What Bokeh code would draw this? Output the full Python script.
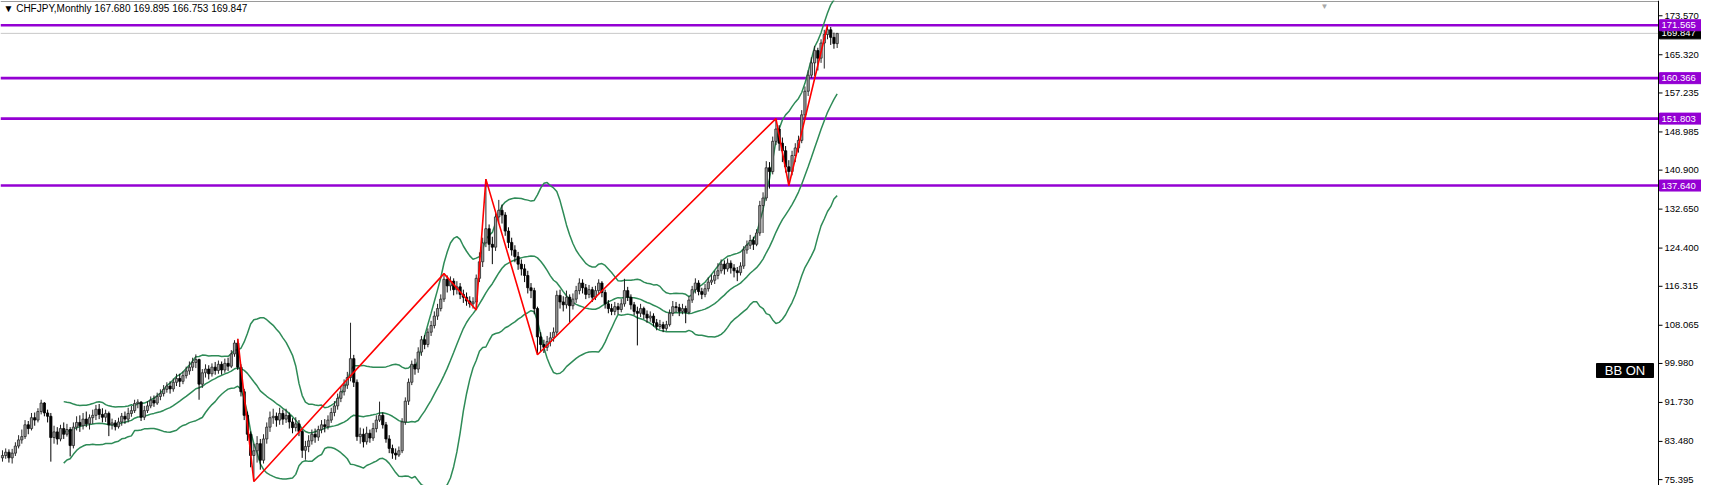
import numpy as np
import pandas as pd
from bokeh.plotting import figure
from bokeh.models import Range1d, Label, ColumnDataSource
from bokeh.core.properties import value
from bokeh.embed import file_html
from bokeh.resources import INLINE

# ---------------- data ----------------
symbol = "CHFJPY,Monthly"
first_open = 80.0
close = [
    80.5, 81.2, 80.0, 81.0, 82.5, 83.8, 84.5, 87.0, 86.2, 88.5,
    88.0, 89.8, 91.6, 89.5, 88.8, 84.3, 85.5, 84.0, 86.2, 85.0,
    86.0, 82.6, 86.5, 87.5, 86.8, 88.2, 87.2, 88.5, 89.0, 90.3,
    89.2, 88.6, 89.4, 87.0, 87.4, 86.6, 87.6, 88.8, 88.2, 89.4,
    90.0, 91.5, 91.8, 88.6, 90.0, 91.0, 92.2, 91.6, 93.0, 93.6,
    94.5, 95.2, 94.6, 96.0, 96.8, 96.2, 97.4, 98.4, 99.2, 100.2,
    100.8, 95.6, 98.0, 98.8, 97.8, 99.2, 98.5, 99.8, 98.6, 100.0,
    99.4, 102.0, 104.3, 99.2, 94.0, 89.0, 85.0, 80.5, 81.5, 83.0,
    79.5, 84.0, 86.5, 88.5, 88.8, 88.0, 89.4, 88.2, 89.0, 87.6,
    86.4, 87.2, 85.6, 81.6, 82.4, 83.6, 85.0, 84.4, 86.0, 87.0,
    86.6, 88.0, 89.6, 91.0, 92.6, 94.0, 95.4, 97.0, 101.0, 96.0,
    84.5, 85.0, 83.4, 85.2, 84.2, 86.2, 88.0, 89.0, 87.0, 84.0,
    82.0, 81.0, 80.6, 81.5, 87.6, 92.0, 96.0, 99.8, 98.8, 102.4,
    105.0, 104.0, 106.6, 108.0, 110.0, 111.6, 113.6, 117.8, 116.4, 117.4,
    115.6, 116.2, 114.6, 114.0, 113.2, 112.6, 113.0, 118.0, 121.5, 125.5,
    128.5, 125.2, 124.6, 131.0, 132.4, 131.4, 128.0, 125.6, 124.0, 122.6,
    121.0, 120.0, 118.6, 116.0, 115.4, 111.6, 105.6, 104.0, 103.4, 104.6,
    105.4, 106.6, 114.4, 113.0, 112.4, 114.0, 112.2, 113.6, 115.4, 117.0,
    116.0, 114.6, 115.6, 114.0, 115.4, 117.0, 115.0, 112.6, 111.6, 111.0,
    112.0, 111.4, 112.6, 115.4, 114.0, 112.4, 111.0, 110.6, 111.6, 110.4,
    109.6, 110.0, 108.6, 107.8, 108.2, 107.4, 108.2, 110.6, 112.0, 111.8,
    111.0, 111.6, 110.8, 113.4, 115.6, 117.0, 115.2, 114.6, 115.8, 117.2,
    117.6, 118.6, 119.6, 121.0, 120.0, 121.2, 120.2, 119.6, 119.2, 120.6,
    124.0, 125.0, 126.0, 125.2, 127.6, 133.4, 135.0, 141.4, 140.6, 147.0,
    149.6, 146.6, 145.0, 141.6, 140.6, 144.0, 145.6, 147.2, 152.6, 157.6,
    161.0, 163.6, 166.2, 164.6, 167.8, 169.6, 170.6, 169.0, 167.68, 169.847,
]
high = [
    81.6, 82.0, 81.8, 81.9, 83.3, 84.8, 86.0, 88.0, 87.8, 89.5,
    89.6, 90.5, 92.3, 91.8, 90.2, 89.5, 86.8, 86.5, 87.0, 87.5,
    87.2, 86.5, 87.5, 88.8, 89.0, 89.5, 89.8, 89.2, 90.2, 91.2,
    91.4, 90.5, 90.2, 89.8, 88.3, 88.0, 88.5, 89.5, 89.8, 90.6,
    91.0, 92.3, 92.4, 92.0, 91.0, 92.0, 93.0, 93.2, 93.8, 94.5,
    95.4, 96.0, 96.2, 96.8, 97.8, 97.8, 98.3, 99.3, 100.4, 101.2,
    101.9, 101.0, 98.8, 99.8, 99.6, 100.0, 100.3, 100.6, 100.4, 101.0,
    101.2, 102.8, 104.9, 105.2, 99.8, 94.6, 89.8, 85.6, 83.0, 84.6,
    84.0, 85.0, 87.5, 89.8, 90.4, 89.6, 90.6, 90.2, 90.4, 89.6,
    88.4, 88.6, 88.0, 86.0, 83.6, 84.8, 86.0, 86.2, 86.8, 88.0,
    88.2, 89.0, 90.6, 92.0, 93.6, 95.2, 96.6, 98.2, 108.6, 101.8,
    96.6, 86.4, 86.2, 86.6, 86.0, 87.4, 89.0, 91.9, 89.6, 87.6,
    84.8, 82.8, 82.0, 82.4, 88.4, 92.8, 96.8, 100.6, 101.0, 103.4,
    105.8, 106.0, 107.4, 109.0, 111.0, 112.6, 114.6, 119.0, 118.6, 118.4,
    118.0, 117.4, 117.0, 115.6, 115.0, 114.2, 114.0, 118.8, 123.5, 126.6,
    139.0, 129.4, 126.8, 131.8, 134.6, 133.6, 132.0, 128.8, 126.6, 125.0,
    123.6, 122.0, 121.0, 119.6, 117.0, 116.0, 112.0, 106.6, 105.0, 105.8,
    106.6, 107.6, 115.4, 115.6, 114.2, 115.4, 114.6, 114.8, 116.4, 118.0,
    117.8, 116.8, 116.6, 116.2, 116.4, 117.8, 117.4, 115.6, 113.4, 112.6,
    113.0, 112.8, 113.6, 117.9, 116.2, 114.6, 113.0, 112.0, 112.6, 112.0,
    111.2, 111.0, 110.6, 109.4, 109.2, 108.8, 109.0, 111.4, 113.2, 113.0,
    112.6, 112.6, 112.2, 114.2, 116.4, 118.0, 117.6, 116.0, 116.8, 118.2,
    118.8, 119.6, 121.2, 122.0, 121.8, 122.2, 121.8, 121.0, 120.4, 121.4,
    124.8, 126.0, 127.2, 126.8, 128.4, 134.4, 136.2, 142.8, 142.6, 148.0,
    151.803, 150.4, 147.8, 146.0, 143.0, 145.0, 146.6, 148.2, 153.6, 158.6,
    162.0, 164.8, 167.2, 166.8, 168.6, 170.6, 171.565, 171.2, 170.0, 169.895,
]
low = [
    79.2, 79.8, 79.0, 78.8, 80.4, 82.0, 83.0, 84.0, 85.0, 85.8,
    86.8, 87.5, 89.2, 88.8, 87.5, 79.2, 83.0, 82.8, 83.5, 84.0,
    84.5, 80.3, 82.0, 85.8, 85.5, 86.0, 86.5, 86.0, 87.2, 88.0,
    88.2, 87.5, 87.6, 84.6, 86.0, 85.8, 86.2, 86.8, 87.2, 87.5,
    88.7, 89.5, 90.5, 87.8, 88.0, 89.5, 90.5, 90.8, 91.2, 92.2,
    93.0, 93.8, 93.6, 94.0, 95.2, 95.0, 95.6, 96.8, 97.6, 98.4,
    99.0, 92.3, 94.8, 97.0, 96.6, 97.2, 97.6, 97.8, 97.6, 98.0,
    98.4, 99.0, 101.4, 98.6, 93.0, 88.0, 83.6, 78.0, 75.0, 79.0,
    77.5, 78.8, 83.0, 85.5, 87.2, 86.6, 87.0, 87.0, 87.4, 86.2,
    85.2, 85.6, 84.6, 80.0, 79.6, 81.2, 82.8, 83.2, 83.6, 85.2,
    85.4, 86.0, 87.4, 88.8, 90.2, 91.8, 93.2, 94.6, 96.2, 95.0,
    83.6, 83.0, 82.2, 82.8, 83.2, 83.6, 85.4, 87.6, 86.2, 83.2,
    81.0, 79.8, 79.6, 80.2, 81.0, 87.0, 91.2, 95.4, 97.6, 98.0,
    101.6, 103.0, 103.4, 105.8, 107.4, 109.2, 111.0, 113.0, 115.0, 115.4,
    114.4, 114.6, 113.6, 112.8, 112.2, 111.8, 111.6, 111.3, 117.2, 120.4,
    124.6, 123.8, 121.0, 123.8, 129.8, 129.6, 127.0, 124.4, 122.8, 121.4,
    119.8, 118.6, 117.2, 114.8, 113.8, 110.4, 101.83, 102.6, 102.2, 102.6,
    103.6, 104.6, 106.0, 111.6, 111.0, 111.6, 108.6, 111.4, 112.8, 114.6,
    114.8, 113.6, 113.8, 113.0, 113.4, 114.6, 114.0, 111.6, 110.6, 110.2,
    110.2, 110.4, 110.8, 112.0, 113.2, 111.4, 110.2, 103.8, 109.8, 109.4,
    108.6, 108.8, 107.8, 107.0, 107.2, 106.6, 106.9, 107.8, 110.0, 110.8,
    110.0, 110.4, 108.5, 110.4, 112.8, 114.8, 114.4, 113.6, 114.0, 115.2,
    116.6, 116.8, 117.8, 119.0, 118.8, 119.4, 119.0, 118.2, 117.4, 118.6,
    120.0, 123.2, 124.2, 124.0, 124.8, 127.0, 127.6, 134.4, 137.0, 140.0,
    146.2, 145.0, 142.6, 140.4, 137.64, 139.8, 142.6, 144.6, 146.6, 151.8,
    156.6, 160.4, 160.8, 162.0, 163.6, 162.4, 168.6, 167.4, 166.6, 166.753,
]
levels = [171.565, 160.366, 151.803, 137.640]
axis_ticks = [173.570, 165.320, 157.235, 148.985, 140.900, 132.650, 124.400,
              116.315, 108.065, 99.980, 91.730, 83.480, 75.395]
zigzag_idx = [73, 78, 137, 147, 150, 166, 240, 244, 256]
zigzag_kind = ["H", "L", "H", "L", "H", "L", "H", "L", "H"]
bb_period = 20
bb_dev = 2.0

# ---------------- layout ----------------
W, H = 1701, 485
X0, X1 = -0.617, 527.2          # bar-index range over the whole canvas width
Y0, Y1 = 74.15, 176.804          # price range over the whole canvas height
AXIS_PX = 1658                    # price-scale line position (px from left)
sx = W / (X1 - X0)
sy = H / (Y1 - Y0)

def fx(px):
    return X0 + px / sx

def fy(px):
    return Y1 - px / sy

AX = fx(AXIS_PX)

# ---------------- derived ----------------
n = len(close)
idx = np.arange(n)
opens = [first_open] + close[:-1]
o = np.array(opens); c = np.array(close); h = np.array(high); l = np.array(low)
bull = c >= o

p = figure(width=W, height=H, output_backend="svg", toolbar_location=None,
           x_range=Range1d(X0, X1), y_range=Range1d(Y0, Y1),
           x_axis_location=None, y_axis_location=None,
           min_border_left=0, min_border_top=0, min_border_bottom=0, min_border_right=0)
p.grid.visible = False
p.outline_line_color = None
p.background_fill_color = "white"
p.border_fill_color = "white"

FONT = value("Liberation Sans")

# top frame line
p.segment(x0=[X0], y0=[fy(1)], x1=[AX], y1=[fy(1)], line_color="#9a9a9a", line_width=1)

# bid line
p.segment(x0=[X0], y0=[close[-1]], x1=[AX], y1=[close[-1]], line_color="#c8c8c8", line_width=1)

# levels
p.segment(x0=[X0] * len(levels), y0=levels, x1=[AX] * len(levels), y1=levels,
          line_color="#9400D3", line_width=2.6)

# Bollinger bands
s = pd.Series(c)
mid = s.rolling(bb_period).mean()
sd = s.rolling(bb_period).std(ddof=0)
up = mid + bb_dev * sd
dn = mid - bb_dev * sd
for band in (up, mid, dn):
    p.line(idx, band.values, line_color="#2E8B57", line_width=1.5)

# candles
src_bull = ColumnDataSource(dict(x=idx[bull], o=o[bull], c=c[bull], h=h[bull], l=l[bull]))
src_bear = ColumnDataSource(dict(x=idx[~bull], o=o[~bull], c=c[~bull], h=h[~bull], l=l[~bull]))
p.segment(x0="x", y0="h", x1="x", y1="l", source=src_bull, line_color="#262626", line_width=1)
p.segment(x0="x", y0="h", x1="x", y1="l", source=src_bear, line_color="#000000", line_width=1)
p.vbar(x="x", top="c", bottom="o", width=0.7, source=src_bull,
       fill_color="#9c9c9c", line_color="#262626", line_width=0.8)
p.vbar(x="x", top="o", bottom="c", width=0.7, source=src_bear,
       fill_color="#000000", line_color="#000000", line_width=0.8)

# zigzag
zz_y = [high[i] if k == "H" else low[i] for i, k in zip(zigzag_idx, zigzag_kind)]
p.line(zigzag_idx, zz_y, line_color="#FF0000", line_width=1.6)

# ---------------- price scale (right) ----------------
p.segment(x0=[AX], y0=[Y0], x1=[AX], y1=[Y1], line_color="#000000", line_width=1)
p.segment(x0=[AX] * len(axis_ticks), y0=axis_ticks,
          x1=[fx(AXIS_PX + 4)] * len(axis_ticks), y1=axis_ticks,
          line_color="#000000", line_width=1)
p.text(x=[fx(AXIS_PX + 6)] * len(axis_ticks), y=axis_ticks,
       text=[f"{t:.3f}" for t in axis_ticks], text_font=FONT,
       text_font_size=value("9.5px"), text_color="#000000",
       text_align="left", text_baseline="middle")

# price tags
TAG_H = 11 / sy
def tag(price, color):
    p.quad(left=[fx(AXIS_PX + 1)], right=[fx(W)],
           bottom=[price - TAG_H / 2], top=[price + TAG_H / 2],
           fill_color=color, line_color=color)
    p.text(x=[fx(AXIS_PX + 3)], y=[price], text=[f"{price:.3f}"], text_font=FONT,
           text_font_size=value("9.5px"), text_color="white",
           text_align="left", text_baseline="middle")

tag(close[-1], "#000000")
for lv in levels:
    tag(lv, "#9400D3")

# header
hdr = f"\u25BC {symbol}  {opens[-1]:.3f} {high[-1]:.3f} {low[-1]:.3f} {close[-1]:.3f}"
p.add_layout(Label(x=3, y=H - 8, x_units="screen", y_units="screen", text=hdr,
                   text_font="Liberation Sans", text_font_size="10px",
                   text_baseline="middle", text_color="#000000"))

# chart shift marker
p.add_layout(Label(x=1324, y=H - 1, x_units="screen", y_units="screen", text="\u25BC",
                   text_font_size="8px", text_color="#a8a8a8", text_align="center",
                   text_baseline="top"))

# BB ON badge
p.quad(left=[fx(1596)], right=[fx(1653)], top=[fy(363)], bottom=[fy(377)],
       fill_color="#000000", line_color="#000000")
p.text(x=[fx(1624.5)], y=[fy(370)], text=["BB ON"], text_font=FONT,
       text_font_size=value("13px"), text_color="white",
       text_align="center", text_baseline="middle")

open("out.html", "w").write(file_html(p, INLINE))
